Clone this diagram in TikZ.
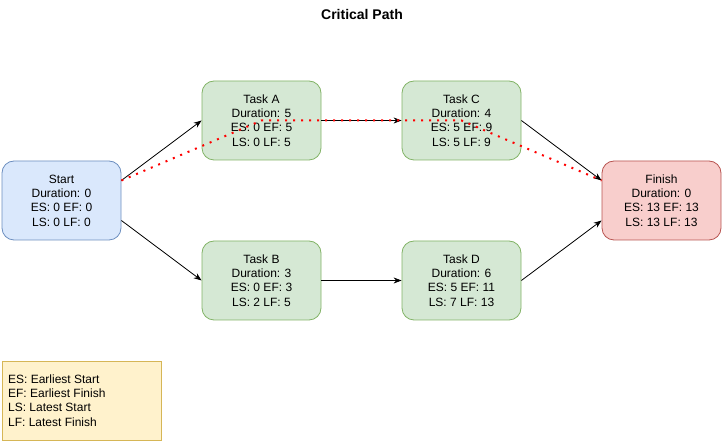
\documentclass[tikz,border=0pt]{standalone}
\usepackage{fontspec}
\setmainfont{Liberation Sans}
\usetikzlibrary{arrows.meta}
\definecolor{startfill}{HTML}{DAE8FC}
\definecolor{startline}{HTML}{6C8EBF}
\definecolor{taskfill}{HTML}{D5E8D4}
\definecolor{taskline}{HTML}{82B366}
\definecolor{endfill}{HTML}{F8CECC}
\definecolor{endline}{HTML}{B85450}
\definecolor{notefill}{HTML}{FFF2CC}
\definecolor{noteline}{HTML}{D6B656}
\begin{document}
\begin{tikzpicture}[
x=1pt, y=-1pt,
font=\fontsize{12}{14.4}\selectfont,
>={Stealth[length=8pt,width=6pt]},
box/.style={rounded corners=12pt, minimum width=119pt, minimum height=79pt, align=center, line width=0.8pt},
startbox/.style={box, draw=startline, fill=startfill},
taskbox/.style={box, draw=taskline, fill=taskfill},
endbox/.style={box, draw=endline, fill=endfill},
notebox/.style={draw=noteline, fill=notefill, minimum width=159pt, minimum height=79pt, line width=0.8pt},
link/.style={->, line width=0.8pt},
critical/.style={red, line width=2pt, dash pattern=on 2pt off 6pt}]
\useasboundingbox (0,0) rectangle (724,443);
\node (title) at (362,15) {\fontsize{14}{16}\selectfont\bfseries Critical Path};

\node[startbox] (start) at (61.5,200.5) {Start\\Duration: 0\\ES: 0 EF: 0\\LS: 0 LF: 0};
\node[taskbox] (taskA) at (261.5,120.5) {Task A\\Duration: 5\\ES: 0 EF: 5\\LS: 0 LF: 5};
\node[taskbox] (taskB) at (261.5,280.5) {Task B\\Duration: 3\\ES: 0 EF: 3\\LS: 2 LF: 5};
\node[taskbox] (taskC) at (461.5,120.5) {Task C\\Duration: 4\\ES: 5 EF: 9\\LS: 5 LF: 9};
\node[taskbox] (taskD) at (461.5,280.5) {Task D\\Duration: 6\\ES: 5 EF: 11\\LS: 7 LF: 13};
\node[endbox] (finish) at (661.5,200.5) {Finish\\Duration: 0\\ES: 13 EF: 13\\LS: 13 LF: 13};

\node[notebox] (legend) at (81.5,400.5) {};
\node[anchor=west, align=left] (legendtext) at ([xshift=3pt]legend.west) {ES: Earliest Start\\EF: Earliest Finish\\LS: Latest Start\\LF: Latest Finish};

\coordinate (startup) at ([yshift=20pt]start.east);
\coordinate (startdown) at ([yshift=-20pt]start.east);
\coordinate (finishup) at ([yshift=20pt]finish.west);
\coordinate (finishdown) at ([yshift=-20pt]finish.west);

\draw[link] (startup) -- (taskA.west);
\draw[link] (startdown) -- (taskB.west);
\draw[link] (taskA.east) -- (taskC.west);
\draw[link] (taskB.east) -- (taskD.west);
\draw[link] (taskC.east) -- (finishup);
\draw[link] (taskD.east) -- (finishdown);

% critical path
\draw[critical] (startup) -- (taskA.center) -- (taskC.center) -- (finishup);
\end{tikzpicture}
\end{document}
